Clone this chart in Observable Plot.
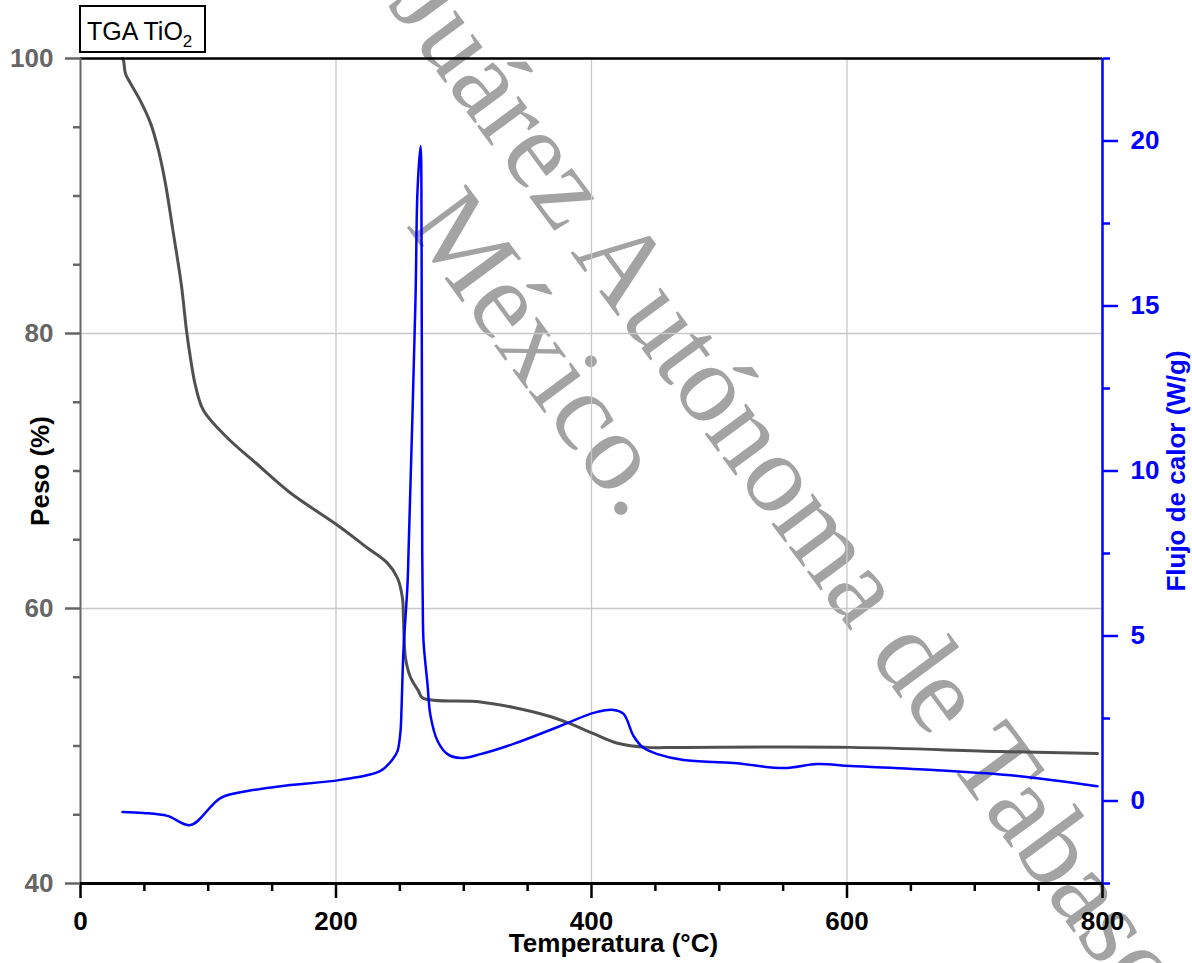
<!DOCTYPE html>
<html><head><meta charset="utf-8">
<script src="https://cdn.jsdelivr.net/npm/d3@7"></script>
<script src="https://cdn.jsdelivr.net/npm/@observablehq/plot@0.6"></script>
<style>body{margin:0;background:#fff}</style>
</head><body><div id="chart"></div>
<script>
// TGA (weight %) vs temperature
const tgaTemp = [32.9, 33.7, 35.2, 39.1, 47.0, 54.8, 61.1, 66.5, 72.0, 79.0, 83.0, 86.1, 90.0, 96.3, 115.1, 137, 164.4, 202, 224.7, 240.3, 248.2, 252.1, 252.8, 254.4, 258.3, 264.6, 267.7, 313.1, 339, 365.6, 381.2, 401.6, 420.4, 443.8, 469.7, 602.8, 720.2, 796.1];
const tgaWeight = [100, 99.85, 98.9, 98.2, 96.9, 95.3, 93.3, 90.9, 87.7, 83.5, 80.2, 78.2, 76.2, 74.4, 72.4, 70.6, 68.4, 66.0, 64.4, 63.3, 62.2, 60.7, 59.3, 56.4, 55.0, 54.0, 53.5, 53.2, 52.8, 52.2, 51.7, 50.9, 50.2, 49.9, 49.9, 49.9, 49.6, 49.45];
// DSC heat flow (W/g) vs temperature
const dscTemp = [32.9, 49.3, 68.1, 86.1, 109.6, 130.7, 156.6, 203.5, 234.8, 245.0, 248.2, 250.5, 251.3, 252.8, 256.0, 256.8, 262.2, 263.8, 266.2, 267.0, 267.5, 267.9, 268.5, 271.6, 274.0, 279.5, 287.3, 297.5, 313.1, 339.0, 365.6, 381.2, 401.6, 417.2, 425.1, 432.9, 440.7, 451.7, 472.0, 511.2, 550.3, 576.9, 602.8, 667.7, 733.5, 796.1];
const dscFlow = [-0.33, -0.36, -0.45, -0.73, 0.09, 0.30, 0.45, 0.64, 0.91, 1.30, 1.52, 2.12, 2.82, 4.55, 6.58, 7.58, 15.15, 18.5, 19.85, 16.7, 7.58, 6.06, 4.85, 3.55, 2.58, 1.82, 1.42, 1.30, 1.42, 1.73, 2.12, 2.36, 2.67, 2.76, 2.64, 1.97, 1.61, 1.42, 1.24, 1.15, 1.00, 1.12, 1.06, 0.94, 0.76, 0.45];

const xMajor = [0, 200, 400, 600, 800];
const xMinor = [50, 100, 150, 250, 300, 350, 450, 500, 550, 650, 700, 750];
const leftMajor = [40, 60, 80, 100];
const leftMinor = [45, 50, 55, 65, 70, 75, 85, 90, 95];
const rightMajor = [0, 5, 10, 15, 20];
const rightMinor = [-2.5, 2.5, 7.5, 12.5, 17.5, 22.5];
const gridXVals = [200, 400, 600];
const gridYVals = [60, 80];
const weightDomain = [40, 100];
const flowDomain = [-2.5, 22.5];

const titleText = "TGA TiO";
const titleSub = "2";
const xLabel = "Temperatura (°C)";
const yLabel = "Peso (%)";
const y2Label = "Flujo de calor (W/g)";
const watermark1 = "Juárez Autónoma de Tabasco";
const watermark2 = "México.";

const toW = q => weightDomain[0] + (q - flowDomain[0]) * (weightDomain[1] - weightDomain[0]) / (flowDomain[1] - flowDomain[0]);
const fromW = w => flowDomain[0] + (w - weightDomain[0]) * (flowDomain[1] - flowDomain[0]) / (weightDomain[1] - weightDomain[0]);

const tga = tgaTemp.map((t, i) => ({t, w: tgaWeight[i]}));
const dsc = dscTemp.map((t, i) => ({t, q: dscFlow[i]}));

const BLUE = "#0000ff";
const GRAY = "#666666";
const font = "'Liberation Sans', Arial, sans-serif";

const svg = Plot.plot({
  width: 1192, height: 963,
  marginLeft: 80, marginRight: 90, marginTop: 58, marginBottom: 80,
  style: {fontFamily: font, fontSize: "26px", background: "white", overflow: "visible"},
  x: {domain: [0, 800]},
  y: {domain: weightDomain},
  marks: [
    Plot.gridX(gridXVals, {stroke: "#c8c8c8", strokeOpacity: 1, strokeWidth: 1.3}),
    Plot.gridY(gridYVals, {stroke: "#c8c8c8", strokeOpacity: 1, strokeWidth: 1.3}),
    Plot.line(tga, {x: "t", y: "w", stroke: "#505050", strokeWidth: 3, curve: "catmull-rom"}),
    Plot.line(dsc, {x: "t", y: d => toW(d.q), stroke: BLUE, strokeWidth: 2.5, curve: "catmull-rom"}),
    Plot.ruleY([weightDomain[1]], {stroke: "black", strokeWidth: 2.5}),
    Plot.ruleX([0], {stroke: GRAY, strokeWidth: 2}),
    Plot.ruleX([800], {stroke: BLUE, strokeWidth: 2.5}),
    Plot.ruleY([weightDomain[0]], {stroke: "black", strokeWidth: 3}),
    Plot.axisX(xMajor, {tickSize: 15, strokeWidth: 2.5, tickPadding: 13, fontSize: 26, fontWeight: "bold", color: "black", label: null}),
    Plot.axisX(xMinor, {tickSize: 8, strokeWidth: 2.5, tickFormat: () => "", color: "black", label: null}),
    Plot.axisY(leftMajor, {anchor: "left", tickSize: 15, strokeWidth: 2.5, tickPadding: 12, fontSize: 26, fontWeight: "bold", color: GRAY, label: null}),
    Plot.axisY(leftMinor, {anchor: "left", tickSize: 7, strokeWidth: 2.5, tickFormat: () => "", color: GRAY, label: null}),
    Plot.axisY(rightMajor.map(toW), {anchor: "right", tickSize: 15, strokeWidth: 2.5, tickPadding: 13, fontSize: 26, fontWeight: "bold", color: BLUE, label: null, tickFormat: w => String(Math.round(fromW(w) * 10) / 10)}),
    Plot.axisY(rightMinor.map(toW), {anchor: "right", tickSize: 7, strokeWidth: 2.5, tickFormat: () => "", color: BLUE, label: null}),
    Plot.text([xLabel], {frameAnchor: "bottom", textAnchor: "middle", dx: 22, dy: 68, fontSize: 26, fontWeight: "bold", fill: "black"}),
    Plot.text([yLabel], {frameAnchor: "left", textAnchor: "middle", dx: -40, rotate: -90, fontSize: 26, fontWeight: "bold", fill: "black"}),
    Plot.text([y2Label], {frameAnchor: "right", textAnchor: "middle", dx: 74, rotate: -90, fontSize: 26, fontWeight: "bold", fill: BLUE})
  ]
});

const s = d3.select(svg);
// watermark underneath everything
const wmSize = 112;
const wm = s.insert("g", ":first-child").attr("fill", "#a3a3a3").attr("text-anchor", "start")
  .style("font-family", "'Liberation Serif', 'DejaVu Serif', serif").style("font-size", wmSize + "px");
const ang = 53.5, rad = ang * Math.PI / 180;
const dir = [Math.cos(rad), Math.sin(rad)];
const l1 = [565 - 2.804 * 106 * dir[0] - 2 * dir[0], 245 - 2.804 * 106 * dir[1] - 2 * dir[1]];
wm.append("text").attr("transform", `translate(${l1[0]},${l1[1]}) rotate(${ang})`).text(watermark1);
const l2 = [411 - 10 * dir[0], 233 - 10 * dir[1]];
wm.append("text").attr("transform", `translate(${l2[0]},${l2[1]}) rotate(${ang})`).text(watermark2);
s.insert("rect", ":first-child").attr("width", 1192).attr("height", 963).attr("fill", "white");

// title box
const tb = s.append("g").attr("text-anchor", "start");
tb.append("rect").attr("x", 80).attr("y", 6).attr("width", 125).attr("height", 46).attr("fill", "white").attr("stroke", "black").attr("stroke-width", 2);
const tt = tb.append("text").attr("x", 87).attr("y", 40).attr("fill", "black").style("font-size", "25px").style("font-family", font);
tt.append("tspan").text(titleText);
tt.append("tspan").attr("dy", 7).style("font-size", "17px").text(titleSub);

document.getElementById("chart").appendChild(svg);
</script>
</body></html>
